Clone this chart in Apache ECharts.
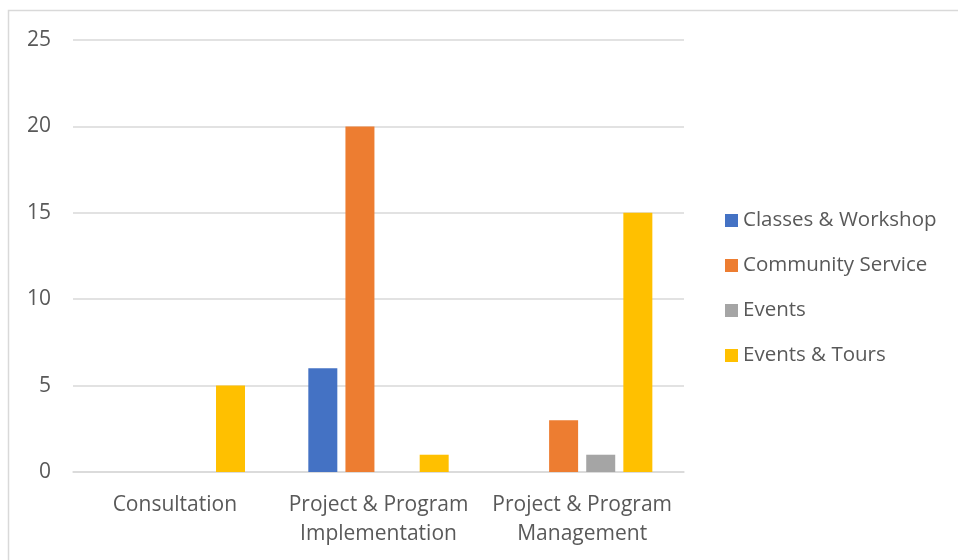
<!DOCTYPE html>
<html>
<head>
<meta charset="utf-8">
<script src="https://cdn.jsdelivr.net/npm/echarts@6/dist/echarts.min.js"></script>
<style>
html,body{margin:0;padding:0;background:#fff;}
#chart{width:958px;height:560px;}
</style>
</head>
<body>
<div id="chart"></div>
<script>
const categories = ['Consultation', 'Project & Program\nImplementation', 'Project & Program\nManagement'];
const seriesNames = ['Classes & Workshop', 'Community Service', 'Events', 'Events & Tours'];
const classesWorkshop = [0, 6, 0];
const communityService = [0, 20, 3];
const events = [0, 0, 1];
const eventsTours = [5, 1, 15];
const yTicks = [0, 5, 10, 15, 20, 25];
const colors = ['#4472C4', '#ED7D31', '#A5A5A5', '#FFC000'];

const values = [classesWorkshop, communityService, events, eventsTours];
const font = 'Open Sans, Noto Sans, sans-serif';

const chart = echarts.init(document.getElementById('chart'), null, {renderer: 'canvas'});
chart.setOption({
  animation: false,
  color: colors,
  graphic: [{
    type: 'rect',
    shape: {x: 8.5, y: 10.5, width: 1000, height: 600},
    style: {fill: 'none', stroke: '#D9D9D9', lineWidth: 1.5},
    silent: true
  }],
  grid: {left: 73, right: 274, top: 40, bottom: 88, containLabel: false},
  legend: {
    orient: 'vertical',
    left: 720,
    top: 205,
    itemWidth: 13,
    itemHeight: 13,
    itemGap: 24,
    icon: 'rect',
    textStyle: {color: '#595959', fontSize: 20.5, fontFamily: font},
    data: seriesNames
  },
  xAxis: {
    type: 'category',
    data: categories,
    axisLine: {show: true, lineStyle: {color: '#D9D9D9', width: 1.5}},
    axisTick: {show: false},
    axisLabel: {color: '#595959', fontSize: 21, fontFamily: font, margin: 19, lineHeight: 29, interval: 0}
  },
  yAxis: {
    type: 'value',
    min: yTicks[0],
    max: yTicks[yTicks.length - 1],
    interval: 5,
    axisLine: {show: false},
    axisTick: {show: false},
    splitLine: {lineStyle: {color: '#D9D9D9', width: 1.5}},
    axisLabel: {color: '#595959', fontSize: 21, fontFamily: font, margin: 22}
  },
  series: seriesNames.map((name, i) => ({
    name: name,
    type: 'bar',
    data: values[i],
    barWidth: 29,
    barGap: '28%',
    itemStyle: {color: colors[i]}
  }))
});
</script>
</body>
</html>
